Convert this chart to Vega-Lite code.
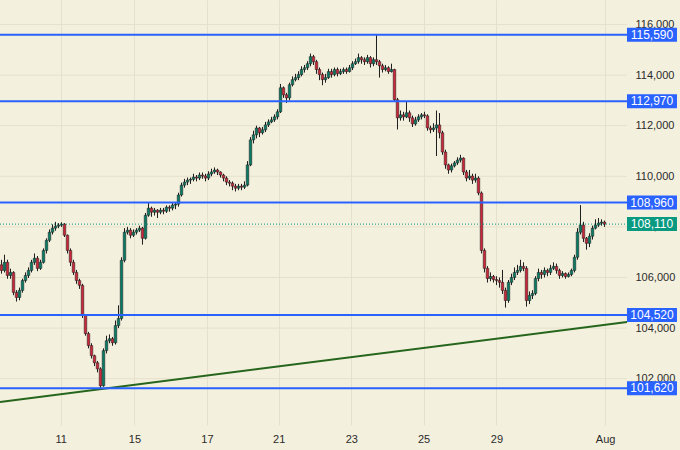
{
"$schema": "https://vega.github.io/schema/vega-lite/v6.json",
"width": 680, "height": 425, "autosize": "none",
"padding": {"left": 0, "top": 0, "right": 0, "bottom": 25},
"background": "#f4f0de",
"config": {"view": {"stroke": null}, "font": "Liberation Sans", "scale": {"continuousPadding": 0}},
"datasets": {
"candles": [
{"i":0,"o":106500,"h":106700,"l":106150,"c":106280},
{"i":1,"o":106280,"h":106900,"l":106200,"c":106600},
{"i":2,"o":106600,"h":106700,"l":105950,"c":106080},
{"i":3,"o":106080,"h":106350,"l":105950,"c":106200},
{"i":4,"o":106200,"h":106250,"l":105300,"c":105410},
{"i":5,"o":105410,"h":105500,"l":105050,"c":105210},
{"i":6,"o":105210,"h":105600,"l":105100,"c":105490},
{"i":7,"o":105490,"h":105950,"l":105400,"c":105880},
{"i":8,"o":105880,"h":106200,"l":105800,"c":106080},
{"i":9,"o":106080,"h":106400,"l":105980,"c":106280},
{"i":10,"o":106280,"h":106700,"l":106200,"c":106600},
{"i":11,"o":106600,"h":106950,"l":106500,"c":106760},
{"i":12,"o":106760,"h":106850,"l":106250,"c":106360},
{"i":13,"o":106360,"h":106700,"l":106300,"c":106600},
{"i":14,"o":106600,"h":107150,"l":106550,"c":107070},
{"i":15,"o":107070,"h":107550,"l":106950,"c":107470},
{"i":16,"o":107470,"h":107900,"l":107400,"c":107790},
{"i":17,"o":107790,"h":108100,"l":107700,"c":107950},
{"i":18,"o":107950,"h":108200,"l":107850,"c":108030},
{"i":19,"o":108030,"h":108150,"l":107950,"c":108070},
{"i":20,"o":108070,"h":108180,"l":108000,"c":108110},
{"i":21,"o":108110,"h":108150,"l":107600,"c":107670},
{"i":22,"o":107670,"h":107700,"l":106950,"c":107070},
{"i":23,"o":107070,"h":107150,"l":106450,"c":106600},
{"i":24,"o":106600,"h":106700,"l":106100,"c":106200},
{"i":25,"o":106200,"h":106300,"l":105750,"c":105880},
{"i":26,"o":105880,"h":105950,"l":105550,"c":105690},
{"i":27,"o":105690,"h":105750,"l":104400,"c":104500},
{"i":28,"o":104500,"h":104550,"l":103700,"c":103780},
{"i":29,"o":103780,"h":103850,"l":103200,"c":103310},
{"i":30,"o":103310,"h":103400,"l":102800,"c":102910},
{"i":31,"o":102910,"h":102950,"l":102500,"c":102630},
{"i":32,"o":102630,"h":102700,"l":102250,"c":102390},
{"i":33,"o":102390,"h":102450,"l":101600,"c":101720},
{"i":34,"o":101720,"h":103200,"l":101680,"c":103110},
{"i":35,"o":103110,"h":103700,"l":103000,"c":103500},
{"i":36,"o":103500,"h":103750,"l":103400,"c":103580},
{"i":37,"o":103580,"h":103650,"l":103300,"c":103420},
{"i":38,"o":103420,"h":104300,"l":103350,"c":104100},
{"i":39,"o":104100,"h":104900,"l":104000,"c":104380},
{"i":40,"o":104380,"h":106800,"l":104300,"c":106680},
{"i":41,"o":106680,"h":107950,"l":106600,"c":107790},
{"i":42,"o":107790,"h":108000,"l":107700,"c":107870},
{"i":43,"o":107870,"h":107950,"l":107550,"c":107670},
{"i":44,"o":107670,"h":107900,"l":107600,"c":107790},
{"i":45,"o":107790,"h":107950,"l":107700,"c":107870},
{"i":46,"o":107870,"h":108050,"l":107800,"c":107950},
{"i":47,"o":107950,"h":108000,"l":107300,"c":107550},
{"i":48,"o":107550,"h":108550,"l":107500,"c":108460},
{"i":49,"o":108460,"h":108960,"l":108400,"c":108740},
{"i":50,"o":108740,"h":108800,"l":108400,"c":108580},
{"i":51,"o":108580,"h":108750,"l":108450,"c":108660},
{"i":52,"o":108660,"h":108700,"l":108350,"c":108580},
{"i":53,"o":108580,"h":108750,"l":108500,"c":108660},
{"i":54,"o":108660,"h":108750,"l":108500,"c":108620},
{"i":55,"o":108620,"h":108850,"l":108550,"c":108780},
{"i":56,"o":108780,"h":108850,"l":108600,"c":108740},
{"i":57,"o":108740,"h":108960,"l":108650,"c":108860},
{"i":58,"o":108860,"h":108980,"l":108700,"c":108900},
{"i":59,"o":108900,"h":109350,"l":108800,"c":109260},
{"i":60,"o":109260,"h":109750,"l":109200,"c":109650},
{"i":61,"o":109650,"h":109900,"l":109550,"c":109770},
{"i":62,"o":109770,"h":109950,"l":109650,"c":109850},
{"i":63,"o":109850,"h":109950,"l":109700,"c":109880},
{"i":64,"o":109880,"h":110100,"l":109800,"c":109970},
{"i":65,"o":109970,"h":110050,"l":109800,"c":109930},
{"i":66,"o":109930,"h":110150,"l":109850,"c":110050},
{"i":67,"o":110050,"h":110150,"l":109900,"c":110010},
{"i":68,"o":110010,"h":110100,"l":109800,"c":109930},
{"i":69,"o":109930,"h":110200,"l":109850,"c":110090},
{"i":70,"o":110090,"h":110300,"l":110000,"c":110170},
{"i":71,"o":110170,"h":110350,"l":110100,"c":110250},
{"i":72,"o":110250,"h":110300,"l":110050,"c":110170},
{"i":73,"o":110170,"h":110200,"l":109950,"c":110050},
{"i":74,"o":110050,"h":110100,"l":109800,"c":109930},
{"i":75,"o":109930,"h":110000,"l":109650,"c":109770},
{"i":76,"o":109770,"h":109850,"l":109600,"c":109730},
{"i":77,"o":109730,"h":109800,"l":109450,"c":109610},
{"i":78,"o":109610,"h":109700,"l":109400,"c":109530},
{"i":79,"o":109530,"h":109700,"l":109450,"c":109610},
{"i":80,"o":109610,"h":109700,"l":109450,"c":109570},
{"i":81,"o":109570,"h":109800,"l":109500,"c":109650},
{"i":82,"o":109650,"h":110600,"l":109600,"c":110450},
{"i":83,"o":110450,"h":111550,"l":110400,"c":111440},
{"i":84,"o":111440,"h":111800,"l":111300,"c":111640},
{"i":85,"o":111640,"h":112000,"l":111500,"c":111910},
{"i":86,"o":111910,"h":111950,"l":111550,"c":111720},
{"i":87,"o":111720,"h":111950,"l":111650,"c":111840},
{"i":88,"o":111840,"h":112150,"l":111750,"c":112030},
{"i":89,"o":112030,"h":112250,"l":111950,"c":112150},
{"i":90,"o":112150,"h":112350,"l":112100,"c":112230},
{"i":91,"o":112230,"h":112450,"l":112150,"c":112350},
{"i":92,"o":112350,"h":112650,"l":112250,"c":112550},
{"i":93,"o":112550,"h":113650,"l":112500,"c":113500},
{"i":94,"o":113500,"h":113550,"l":113100,"c":113220},
{"i":95,"o":113220,"h":113300,"l":112900,"c":113100},
{"i":96,"o":113100,"h":113700,"l":113000,"c":113620},
{"i":97,"o":113620,"h":113950,"l":113550,"c":113820},
{"i":98,"o":113820,"h":114050,"l":113750,"c":113900},
{"i":99,"o":113900,"h":114150,"l":113800,"c":114020},
{"i":100,"o":114020,"h":114350,"l":113950,"c":114220},
{"i":101,"o":114220,"h":114400,"l":114100,"c":114290},
{"i":102,"o":114290,"h":114550,"l":114200,"c":114450},
{"i":103,"o":114450,"h":114850,"l":114350,"c":114730},
{"i":104,"o":114730,"h":114800,"l":114400,"c":114530},
{"i":105,"o":114530,"h":114600,"l":114050,"c":114220},
{"i":106,"o":114220,"h":114300,"l":113800,"c":114020},
{"i":107,"o":114020,"h":114100,"l":113600,"c":113820},
{"i":108,"o":113820,"h":114050,"l":113700,"c":113900},
{"i":109,"o":113900,"h":114250,"l":113850,"c":114140},
{"i":110,"o":114140,"h":114250,"l":113900,"c":114020},
{"i":111,"o":114020,"h":114300,"l":113950,"c":114220},
{"i":112,"o":114220,"h":114300,"l":113950,"c":114060},
{"i":113,"o":114060,"h":114250,"l":114000,"c":114140},
{"i":114,"o":114140,"h":114300,"l":114050,"c":114220},
{"i":115,"o":114220,"h":114300,"l":114050,"c":114140},
{"i":116,"o":114140,"h":114400,"l":114100,"c":114290},
{"i":117,"o":114290,"h":114550,"l":114200,"c":114450},
{"i":118,"o":114450,"h":114650,"l":114400,"c":114530},
{"i":119,"o":114530,"h":114850,"l":114450,"c":114690},
{"i":120,"o":114690,"h":114750,"l":114450,"c":114610},
{"i":121,"o":114610,"h":114700,"l":114400,"c":114530},
{"i":122,"o":114530,"h":114800,"l":114450,"c":114690},
{"i":123,"o":114690,"h":114750,"l":114300,"c":114450},
{"i":124,"o":114450,"h":114700,"l":114350,"c":114610},
{"i":125,"o":114610,"h":115600,"l":114400,"c":114530},
{"i":126,"o":114530,"h":114600,"l":113900,"c":114370},
{"i":127,"o":114370,"h":114450,"l":114100,"c":114220},
{"i":128,"o":114220,"h":114400,"l":114150,"c":114290},
{"i":129,"o":114290,"h":114350,"l":114050,"c":114140},
{"i":130,"o":114140,"h":114450,"l":114100,"c":114220},
{"i":131,"o":114220,"h":114250,"l":112950,"c":113030},
{"i":132,"o":113030,"h":113100,"l":111850,"c":112310},
{"i":133,"o":112310,"h":112600,"l":112200,"c":112430},
{"i":134,"o":112430,"h":112550,"l":112200,"c":112350},
{"i":135,"o":112350,"h":112950,"l":112300,"c":112510},
{"i":136,"o":112510,"h":112600,"l":112150,"c":112310},
{"i":137,"o":112310,"h":112400,"l":111950,"c":112070},
{"i":138,"o":112070,"h":112350,"l":112000,"c":112230},
{"i":139,"o":112230,"h":112450,"l":112150,"c":112350},
{"i":140,"o":112350,"h":112500,"l":112250,"c":112430},
{"i":141,"o":112430,"h":112550,"l":112300,"c":112390},
{"i":142,"o":112390,"h":112450,"l":111800,"c":111910},
{"i":143,"o":111910,"h":112000,"l":111700,"c":111840},
{"i":144,"o":111840,"h":112100,"l":111750,"c":111910},
{"i":145,"o":111910,"h":112600,"l":110800,"c":112030},
{"i":146,"o":112030,"h":112500,"l":111500,"c":111720},
{"i":147,"o":111720,"h":111800,"l":110850,"c":110960},
{"i":148,"o":110960,"h":111050,"l":110300,"c":110450},
{"i":149,"o":110450,"h":110500,"l":110100,"c":110250},
{"i":150,"o":110250,"h":110500,"l":110150,"c":110410},
{"i":151,"o":110410,"h":110600,"l":110350,"c":110530},
{"i":152,"o":110530,"h":110750,"l":110450,"c":110640},
{"i":153,"o":110640,"h":110850,"l":110550,"c":110720},
{"i":154,"o":110720,"h":110750,"l":110050,"c":110170},
{"i":155,"o":110170,"h":110250,"l":109800,"c":109930},
{"i":156,"o":109930,"h":110250,"l":109850,"c":110010},
{"i":157,"o":110010,"h":110100,"l":109700,"c":109850},
{"i":158,"o":109850,"h":110100,"l":109750,"c":109930},
{"i":159,"o":109930,"h":110000,"l":109250,"c":109340},
{"i":160,"o":109340,"h":109400,"l":106950,"c":107070},
{"i":161,"o":107070,"h":107150,"l":106200,"c":106360},
{"i":162,"o":106360,"h":106450,"l":105800,"c":105960},
{"i":163,"o":105960,"h":106200,"l":105850,"c":106040},
{"i":164,"o":106040,"h":106100,"l":105800,"c":105920},
{"i":165,"o":105920,"h":106050,"l":105700,"c":105880},
{"i":166,"o":105880,"h":106000,"l":105600,"c":105810},
{"i":167,"o":105810,"h":106300,"l":105350,"c":105490},
{"i":168,"o":105490,"h":105600,"l":104810,"c":105090},
{"i":169,"o":105090,"h":105900,"l":105000,"c":105810},
{"i":170,"o":105810,"h":106150,"l":105700,"c":106000},
{"i":171,"o":106000,"h":106400,"l":105900,"c":106200},
{"i":172,"o":106200,"h":106500,"l":106100,"c":106280},
{"i":173,"o":106280,"h":106700,"l":106200,"c":106440},
{"i":174,"o":106440,"h":106600,"l":106250,"c":106360},
{"i":175,"o":106360,"h":106450,"l":104850,"c":105090},
{"i":176,"o":105090,"h":105450,"l":104950,"c":105290},
{"i":177,"o":105290,"h":105500,"l":105150,"c":105370},
{"i":178,"o":105370,"h":106050,"l":105300,"c":105960},
{"i":179,"o":105960,"h":106350,"l":105850,"c":106200},
{"i":180,"o":106200,"h":106300,"l":105950,"c":106120},
{"i":181,"o":106120,"h":106400,"l":106000,"c":106280},
{"i":182,"o":106280,"h":106350,"l":106050,"c":106200},
{"i":183,"o":106200,"h":106500,"l":106100,"c":106360},
{"i":184,"o":106360,"h":106600,"l":106300,"c":106440},
{"i":185,"o":106440,"h":106550,"l":106150,"c":106280},
{"i":186,"o":106280,"h":106350,"l":105950,"c":106080},
{"i":187,"o":106080,"h":106250,"l":106000,"c":106160},
{"i":188,"o":106160,"h":106200,"l":105950,"c":106040},
{"i":189,"o":106040,"h":106200,"l":106000,"c":106120},
{"i":190,"o":106120,"h":106350,"l":106050,"c":106280},
{"i":191,"o":106280,"h":106900,"l":106200,"c":106800},
{"i":192,"o":106800,"h":107950,"l":106700,"c":107790},
{"i":193,"o":107790,"h":108860,"l":107700,"c":108070},
{"i":194,"o":108070,"h":108200,"l":107400,"c":107550},
{"i":195,"o":107550,"h":107600,"l":107100,"c":107350},
{"i":196,"o":107350,"h":107750,"l":107200,"c":107630},
{"i":197,"o":107630,"h":108050,"l":107500,"c":107950},
{"i":198,"o":107950,"h":108300,"l":107900,"c":108070},
{"i":199,"o":108070,"h":108350,"l":108000,"c":108150},
{"i":200,"o":108150,"h":108300,"l":108050,"c":108190},
{"i":201,"o":108190,"h":108250,"l":108000,"c":108110}
],
"levels": [
{"p":115590,"k":"lvl"},{"p":112970,"k":"lvl"},{"p":108960,"k":"lvl"},{"p":104520,"k":"lvl"},{"p":101620,"k":"lvl"},{"p":108110,"k":"cur"}
],
"trend": [{"t":-0.5,"p":101080},{"t":208.5,"p":104240}],
"grid": [{"p":102000},{"p":104000},{"p":106000},{"p":108000},{"p":110000},{"p":112000},{"p":114000},{"p":116000}]
},
"encoding": {
 "x": {"type":"quantitative","scale":{"domain":[-0.5,226.17],"nice":false,"zero":false,"padding":0},
   "axis":{"values":[19.73,44.3,68.5,92.4,116.6,140.7,165,201.2],"labelExpr":"datum.value<30?'11':datum.value<50?'15':datum.value<80?'17':datum.value<100?'21':datum.value<120?'23':datum.value<150?'25':datum.value<180?'29':'Aug'","grid":true,"gridColor":"#e6e1cc","domain":false,"ticks":false,"labelPadding":8,"labelFontSize":11,"labelColor":"#2b2b2b","labelFont":"Liberation Sans","title":null,"zindex":0}},
 "y": {"type":"quantitative","scale":{"domain":[100170,116968],"nice":false,"zero":false,"padding":0},
   "axis":{"orient":"right","offset":-53,"values":[102000,104000,106000,108000,110000,112000,114000,116000],"format":",d","grid":false,"domain":false,"ticks":false,"labelPadding":8,"labelFontSize":11,"labelColor":"#2b2b2b","labelFont":"Liberation Sans","title":null,"zindex":0}}
},
"layer": [
{"data":{"name":"grid"},"mark":{"type":"rule","color":"#e6e1cc","strokeWidth":1},
 "encoding":{"x":{"datum":-0.5},"x2":{"datum":208.5},"y":{"field":"p"}}},
{"data":{"name":"candles"},"mark":{"type":"rule","color":"#1e1e1e","strokeWidth":1},
 "encoding":{"x":{"field":"i"},"y":{"field":"l"},"y2":{"field":"h"}}},
{"data":{"name":"candles"},"mark":{"type":"bar","size":2.6,"stroke":"#1e1e1e","strokeWidth":0.5},
 "encoding":{"x":{"field":"i"},"y":{"field":"o"},"y2":{"field":"c"},
  "color":{"condition":{"test":"datum.c>=datum.o","value":"#0b7a64"},"value":"#c8283a"}}},
{"data":{"name":"trend"},"mark":{"type":"line","color":"#26661c","strokeWidth":2,"clip":true},
 "encoding":{"x":{"field":"t"},"y":{"field":"p"}}},
{"data":{"name":"levels"},"transform":[{"filter":"datum.k=='lvl'"}],"mark":{"type":"rule","color":"#2962ff","strokeWidth":2},
 "encoding":{"x":{"datum":-0.5},"x2":{"datum":208.5},"y":{"field":"p"}}},
{"data":{"name":"levels"},"transform":[{"filter":"datum.k=='cur'"}],"mark":{"type":"rule","color":"#089981","strokeWidth":1,"strokeDash":[1,2]},
 "encoding":{"x":{"datum":-0.5},"x2":{"datum":208.5},"y":{"field":"p"}}},
{"data":{"name":"levels"},"mark":{"type":"point","filled":true,"opacity":1,"size":2500,"shape":"M-1,-0.28L1,-0.28L1,0.28L-1,0.28Z","strokeWidth":0},
 "encoding":{"x":{"datum":216.83},"y":{"field":"p"},
  "color":{"condition":{"test":"datum.k=='cur'","value":"#089981"},"value":"#2962ff"}}},
{"data":{"name":"levels"},"mark":{"type":"text","color":"#ffffff","fontSize":12,"font":"Liberation Sans","align":"center","baseline":"middle"},
 "encoding":{"x":{"datum":216.83},"y":{"field":"p"},
  "text":{"field":"p","type":"quantitative","format":",d"}}}
]
}
